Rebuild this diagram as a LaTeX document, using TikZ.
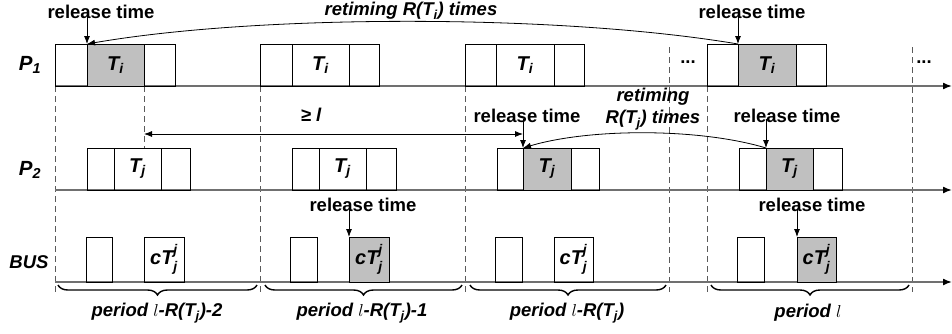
\documentclass[tikz,border=0pt]{standalone}
\usepackage{amsmath}
\usepackage{fontspec}
\setmainfont{Liberation Sans}
\usetikzlibrary{arrows.meta,decorations.pathreplacing}
\definecolor{slotgray}{RGB}{192,192,192}
\definecolor{axisgray}{RGB}{112,112,112}
\definecolor{guidegray}{RGB}{90,90,90}
% names with sub/superscripts
\newcommand\Sb[2]{$\text{#1}_{\text{#2}}$}
\newcommand\TT[1]{\Sb{T}{#1}}
\newcommand\CT{$\text{c}\text{T}^{\text{j}}_{\text{j}}$}
\begin{document}
\begin{tikzpicture}[x=1pt,y=-1pt,
  every node/.style={font=\fontsize{18.5}{22}\selectfont\bfseries, inner sep=0pt},
  lbl/.style={font=\fontsize{18.5}{22}\selectfont\bfseries\itshape},
  rowlbl/.style={font=\fontsize{20.5}{24}\selectfont\bfseries\itshape},
  slot/.style={draw=black, line width=1pt, inner sep=0pt, outer sep=0pt,
    font=\fontsize{20}{24}\selectfont\bfseries\itshape},
  busy/.style={slot, fill=slotgray},
  prow/.style={minimum height=42pt},
  brow/.style={minimum height=45pt},
  axis/.style={draw=axisgray, line width=1.6pt, -{Latex[length=9pt,width=7pt,color=black]}},
  guide/.style={draw=guidegray, line width=0.9pt, dash pattern=on 6pt off 4pt},
  ptr/.style={draw=black, line width=0.8pt, -{Latex[length=8pt,width=6pt]}},
  twoway/.style={draw=black, line width=0.8pt, {Latex[length=8pt,width=6pt]}-{Latex[length=8pt,width=6pt]}},
  brc/.style={draw=black, line width=1.4pt, decorate,
    decoration={brace, mirror, amplitude=10pt}}]
\useasboundingbox (0,0) rectangle (952,333);

% period boundaries
\coordinate (g1t) at (55,86);   \coordinate (g1b) at (55,292);
\coordinate (g2t) at (144,86);  \coordinate (g2b) at (144,148);
\coordinate (g3t) at (260,86);  \coordinate (g3b) at (260,292);
\coordinate (g4t) at (465,86);  \coordinate (g4b) at (465,292);
\coordinate (g5t) at (669,47);  \coordinate (g5b) at (669,292);
\coordinate (g6t) at (707,86);  \coordinate (g6b) at (707,292);
\coordinate (g7t) at (912,47);  \coordinate (g7b) at (912,292);
\foreach \g in {1,...,7} \draw[guide] (g\g t) -- (g\g b);

% time axes
\coordinate (ax1s) at (55,86);  \coordinate (ax1e) at (952,86);
\coordinate (ax2s) at (55,190); \coordinate (ax2e) at (952,190);
\coordinate (ax3s) at (55,282); \coordinate (ax3e) at (952,282);
\draw[axis] (ax1s) -- (ax1e);
\draw[axis] (ax2s) -- (ax2e);
\draw[axis] (ax3s) -- (ax3e);

% row labels
\node[rowlbl] (lp1) at (30,65) {\Sb{P}{1}};
\node[rowlbl] (lp2) at (30,170) {\Sb{P}{2}};
\node[lbl] (lbus) at (29,262) {BUS};

% processor P1
\node[slot,prow,minimum width=32pt] (a1) at (71,65) {};
\node[busy,prow,minimum width=57pt] (a2) at (115.5,65) {\TT{i}};
\node[slot,prow,minimum width=31pt] (a3) at (159.5,65) {};
\node[slot,prow,minimum width=32pt] (b1) at (276,65) {};
\node[slot,prow,minimum width=57pt] (b2) at (320.5,65) {\TT{i}};
\node[slot,prow,minimum width=30pt] (b3) at (364,65) {};
\node[slot,prow,minimum width=31pt] (c1) at (480.5,65) {};
\node[slot,prow,minimum width=58pt] (c2) at (525,65) {\TT{i}};
\node[slot,prow,minimum width=30pt] (c3) at (569,65) {};
\node[slot,prow,minimum width=31pt] (d1) at (722.5,65) {};
\node[busy,prow,minimum width=58pt] (d2) at (767,65) {\TT{i}};
\node[slot,prow,minimum width=30pt] (d3) at (811,65) {};
\node (dots1) at (688,62) {...};
\node (dots2) at (924,62) {...};

% processor P2
\node[slot,prow,minimum width=27pt] (e1) at (100.5,169) {};
\node[slot,prow,minimum width=47pt] (e2) at (137.5,169) {\TT{j}};
\node[slot,prow,minimum width=29pt] (e3) at (175.5,169) {};
\node[slot,prow,minimum width=27pt] (f1) at (305.5,169) {};
\node[slot,prow,minimum width=47pt] (f2) at (342.5,169) {\TT{j}};
\node[slot,prow,minimum width=30pt] (f3) at (381,169) {};
\node[slot,prow,minimum width=26pt] (h1) at (510,169) {};
\node[busy,prow,minimum width=48pt] (h2) at (547,169) {\TT{j}};
\node[slot,prow,minimum width=28pt] (h3) at (585,169) {};
\node[slot,prow,minimum width=27pt] (k1) at (752.5,169) {};
\node[busy,prow,minimum width=47pt] (k2) at (789.5,169) {\TT{j}};
\node[slot,prow,minimum width=29pt] (k3) at (827.5,169) {};

% bus
\node[slot,brow,minimum width=26pt] (m1) at (99,259.5) {};
\node[slot,brow,minimum width=40pt] (m2) at (164,259.5) {\CT};
\node[slot,brow,minimum width=27pt] (n1) at (303.5,259.5) {};
\node[busy,brow,minimum width=40pt] (n2) at (369,259.5) {\CT};
\node[slot,brow,minimum width=27pt] (o1) at (508.5,259.5) {};
\node[slot,brow,minimum width=39pt] (o2) at (573.5,259.5) {\CT};
\node[slot,brow,minimum width=27pt] (q1) at (750.5,259.5) {};
\node[busy,brow,minimum width=39pt] (q2) at (816.5,259.5) {\CT};

% release times
\node (rt1) at (101,12) {release time};
\node (rt2) at (752,12) {release time};
\node (rt3) at (527,116) {release time};
\node (rt4) at (787,116) {release time};
\node (rt5) at (363,205) {release time};
\node (rt6) at (812,205) {release time};
\draw[ptr] ([yshift=3pt]rt1.south -| a2.north west) -- (a2.north west);
\draw[ptr] ([yshift=3pt]rt2.south -| d2.north west) -- (d2.north west);
\draw[ptr] ([yshift=4pt]rt3.south -| h2.north west) -- (h2.north west);
\draw[ptr] ([yshift=4pt]rt4.south -| k2.north west) -- (k2.north west);
\draw[ptr] ([yshift=3pt]rt5.south -| n2.north west) -- (n2.north west);
\draw[ptr] ([yshift=3pt]rt6.south -| q2.north west) -- (q2.north west);

% retiming
\node[lbl] (rtm1) at (411,11) {retiming R(\TT{i}) times};
\draw[ptr] (d2.north west) .. controls (560,14) and (260,14) .. (a2.north west);
\node[lbl, align=center] (rtm2) at (653,109) {retiming\\R(\TT{j}) times};
\draw[ptr] (k2.north west) .. controls (700,128) and (590,128) .. (h2.north west);

% minimum distance
\coordinate (d1s) at (144,134);
\coordinate (d1e) at (523,134);
\draw[twoway] (d1s) -- (d1e);
\node[lbl] (ge) at (311,115) {≥ l};

% periods
\draw[brc] (58,285) -- (257,285);
\draw[brc] (265,285) -- (462,285);
\draw[brc] (470,285) -- (666,285);
\draw[brc] (711,285) -- (909,285);
\node[lbl] (pr1) at (157,313) {period $l$-R(\TT{j})-2};
\node[lbl] (pr2) at (362,313) {period $l$-R(\TT{j})-1};
\node[lbl] (pr3) at (567,313) {period $l$-R(\TT{j})};
\node[lbl] (pr4) at (808,313) {period $l$};
\end{tikzpicture}
\end{document}
